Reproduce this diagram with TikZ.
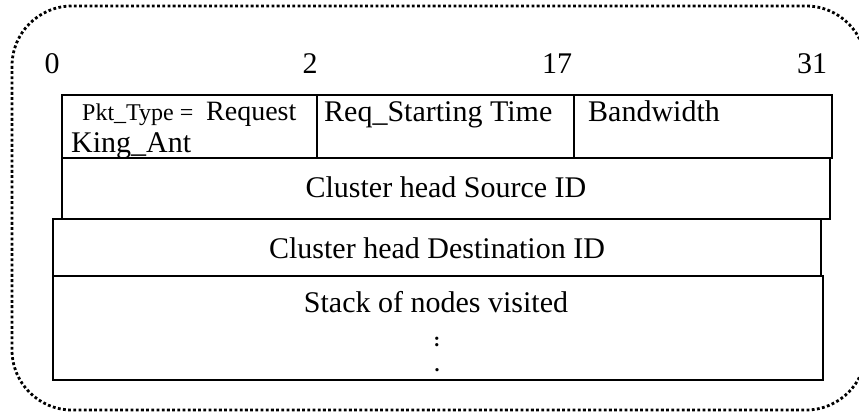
\documentclass[tikz,border=0pt]{standalone}
\usepackage{fontspec}
\setmainfont{Liberation Serif}
\begin{document}
\begin{tikzpicture}[x=1pt,y=-1pt,
  field/.style={draw,line width=1.3pt,inner sep=0pt,outer sep=0pt,anchor=north west},
  big/.style={inner sep=0pt,font=\fontsize{30}{33}\selectfont},
  bitnum/.style={inner sep=0pt,anchor=base,font=\fontsize{30}{33}\selectfont},
  small/.style={inner sep=0pt,font=\fontsize{24}{26}\selectfont},
  ellip/.style={inner sep=0pt,anchor=base,font=\fontsize{20}{22}\bfseries},
  frame/.style={line width=2.8pt,dash pattern=on 2.8pt off 2.4pt,rounded corners=60pt}]
\useasboundingbox (0,0) rectangle (859,414);

% dotted outer frame
\draw[frame] (12,6) rectangle (866,410);

% bit positions
\node[bitnum] (b0)  at (52,74)  {0};
\node[bitnum] (b2)  at (310,74) {2};
\node[bitnum] (b17) at (557,74) {17};
\node[bitnum] (b31) at (812,74) {31};

% first word
\node[field,minimum width=255pt,minimum height=63pt] (ptype) at (62,95) {};
\node[field,minimum width=257pt,minimum height=63pt] (rtime) at (317,95) {};
\node[field,minimum width=258pt,minimum height=63pt] (bw)    at (574,95) {};

% remaining fields
\node[field,minimum width=768pt,minimum height=61pt]  (src)   at (62,158) {};
\node[field,minimum width=768pt,minimum height=57pt]  (dst)   at (53,219) {};
\node[field,minimum width=770pt,minimum height=104pt] (stack) at (53,276) {};

% field labels
\node[small,anchor=base west] (t1) at (82,121) {Pkt\_Type =};
\node[inner sep=0pt,font=\fontsize{28}{30}\selectfont,anchor=base west] (t2) at (206,121) {Request};
\node[big,anchor=base west]   (t3) at (71,153) {King\_Ant};
\node[big,anchor=base west]   (t4) at (324,122) {Req\_Starting Time};
\node[big,anchor=base west]   (t5) at (588,122) {Bandwidth};
\node[big,anchor=base]        (t6) at (446,197) {Cluster head Source ID};
\node[big,anchor=base]        (t7) at (437,258) {Cluster head Destination ID};
\node[big,anchor=base]        (t8) at (436,312) {Stack of nodes visited};
\node[ellip]                  (t9) at (437,346) {:};
\node[ellip]                  (t10) at (437,371) {.};
\end{tikzpicture}
\end{document}
